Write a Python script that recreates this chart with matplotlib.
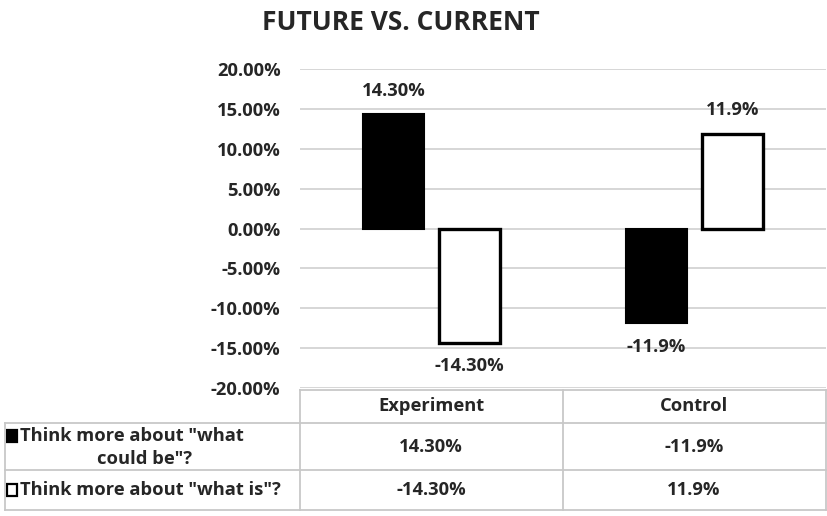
import numpy as np
import matplotlib.pyplot as plt
from matplotlib.patches import Rectangle
from matplotlib.lines import Line2D

plt.rcParams['font.family'] = ['Open Sans', 'DejaVu Sans']

# Data
groups = ['Experiment', 'Control']
series_names = ['Think more about "what\ncould be"?', 'Think more about "what is"?']
could_be = [14.30, -11.9]
what_is = [-14.30, 11.9]
could_be_labels = ['14.30%', '-11.9%']
what_is_labels = ['-14.30%', '11.9%']
yticks = [20, 15, 10, 5, 0, -5, -10, -15, -20]

W, H = 828, 516
fig = plt.figure(figsize=(W / 100, H / 100), dpi=100)
text_col = '#262626'
grid_col = '#d0d0d0'
fs = 13.2
fw = 'bold'


def fx(px):
    return px / W


def fy(py):
    return 1 - py / H


ax = fig.add_axes([fx(300), fy(388), fx(826) - fx(300), fy(69) - fy(388)])
x = np.arange(len(groups))
bw = 0.232
off = 0.145
ax.bar(x - off, could_be, bw, color='black', edgecolor='black', linewidth=1.5, zorder=3)
ax.bar(x + off, what_is, bw, color='white', edgecolor='black', linewidth=2.4, zorder=3)

# value labels above / below each bar
for xs, vals, labs in [(x - off, could_be, could_be_labels), (x + off, what_is, what_is_labels)]:
    for xi, v, lab in zip(xs, vals, labs):
        ax.text(xi, v + (2.9 if v > 0 else -3.0), lab, ha='center', va='center',
                fontsize=fs, fontweight=fw, color=text_col)

ax.set_xlim(-0.5, 1.5)
ax.set_ylim(-20, 20)
ax.set_yticks(yticks)
ax.set_yticklabels([f'{t:.2f}%' for t in yticks], fontsize=fs,
                   fontweight=fw, color=text_col)
ax.tick_params(axis='y', length=0, pad=14)
ax.set_xticks([])
ax.grid(axis='y', color=grid_col, linewidth=1.2, zorder=0)
for s in ax.spines.values():
    s.set_visible(False)

fig.text(fx(401), fy(22), 'FUTURE VS. CURRENT', ha='center', va='center',
         fontsize=19, fontweight='bold', color=text_col)

# Data table below the plot
tbl_col = '#c8c8c8'


def hline(y, x0, x1):
    fig.add_artist(Line2D([fx(x0), fx(x1)], [fy(y), fy(y)], color=tbl_col, lw=1.3))


def vline(xp, y0, y1):
    fig.add_artist(Line2D([fx(xp), fx(xp)], [fy(y0), fy(y1)], color=tbl_col, lw=1.3))


hline(390, 300, 826)
hline(423, 5, 826)
hline(470, 5, 826)
hline(510, 5, 826)
vline(5, 423, 510)
vline(300, 390, 510)
vline(563, 390, 510)
vline(826, 390, 510)

col_centers = [431, 694]
for cx, g in zip(col_centers, groups):
    fig.text(fx(cx), fy(406), g, ha='center', va='center', fontsize=fs,
             fontweight=fw, color=text_col)

row_centers = [447, 490]
rows = [could_be_labels, what_is_labels]
fills = ['black', 'white']
for ry, name, vals, fc in zip(row_centers, series_names, rows, fills):
    for cx, v in zip(col_centers, vals):
        fig.text(fx(cx), fy(ry), v, ha='center', va='center', fontsize=fs,
                 fontweight=fw, color=text_col)
    lines = name.split('\n')
    if len(lines) == 2:
        ys = [ry - 11, ry + 12]
        fig.text(fx(20), fy(ys[0]), lines[0], ha='left', va='center',
                 fontsize=fs, fontweight=fw, color=text_col)
        fig.text(fx(145), fy(ys[1]), lines[1], ha='center', va='center',
                 fontsize=fs, fontweight=fw, color=text_col)
        my = ys[0]
    else:
        fig.text(fx(20), fy(ry), name, ha='left', va='center',
                 fontsize=fs, fontweight=fw, color=text_col)
        my = ry
    fig.add_artist(Rectangle((fx(7), fy(my + 6)), fx(10), fy(0) - fy(12),
                             facecolor=fc, edgecolor='black', lw=1.6))

fig.savefig('out.png', dpi=100)
